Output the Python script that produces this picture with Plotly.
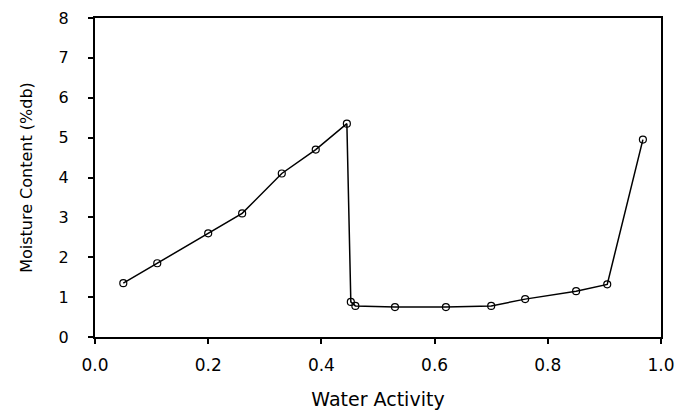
import plotly.graph_objects as go

water_activity = [0.05, 0.11, 0.20, 0.26, 0.33, 0.39, 0.445, 0.452, 0.46, 0.53, 0.62, 0.70, 0.76, 0.85, 0.905, 0.968]
moisture = [1.35, 1.85, 2.6, 3.1, 4.1, 4.7, 5.35, 0.88, 0.78, 0.75, 0.75, 0.78, 0.95, 1.15, 1.32, 4.95]

x_ticks = [0.0, 0.2, 0.4, 0.6, 0.8, 1.0]
x_tick_labels = ["0.0", "0.2", "0.4", "0.6", "0.8", "1.0"]
y_ticks = [0, 1, 2, 3, 4, 5, 6, 7, 8]

FONT = "DejaVu Sans, Arial, sans-serif"

fig = go.Figure()
fig.add_trace(go.Scatter(
    x=water_activity, y=moisture, mode="lines+markers",
    line=dict(color="black", width=1.5),
    marker=dict(symbol="circle-open", size=7, color="black", line=dict(width=1.2)),
    showlegend=False,
))

axis_common = dict(
    showgrid=False, zeroline=False, showline=True, linecolor="black", linewidth=2,
    mirror=True, ticks="outside", ticklen=5, tickwidth=1.5, tickcolor="black",
    automargin=False,
)

fig.update_xaxes(
    range=[0, 1.0], tickvals=x_ticks, ticktext=x_tick_labels,
    tickfont=dict(family=FONT, size=17, color="black"),
    ticklabelstandoff=7,
    title=dict(text="Water Activity", font=dict(family=FONT, size=19, color="black"), standoff=18),
    **axis_common,
)
fig.update_yaxes(
    range=[0, 8], tickvals=y_ticks,
    tickfont=dict(family=FONT, size=16, color="black"),
    ticklabelstandoff=16,
    title=dict(text="Moisture Content (%db)", font=dict(family=FONT, size=16, color="black"), standoff=22),
    **axis_common,
)

fig.update_layout(
    width=683, height=416,
    margin=dict(l=95, r=22, t=18, b=79),
    paper_bgcolor="white", plot_bgcolor="white",
)

fig.write_html("out.html")
